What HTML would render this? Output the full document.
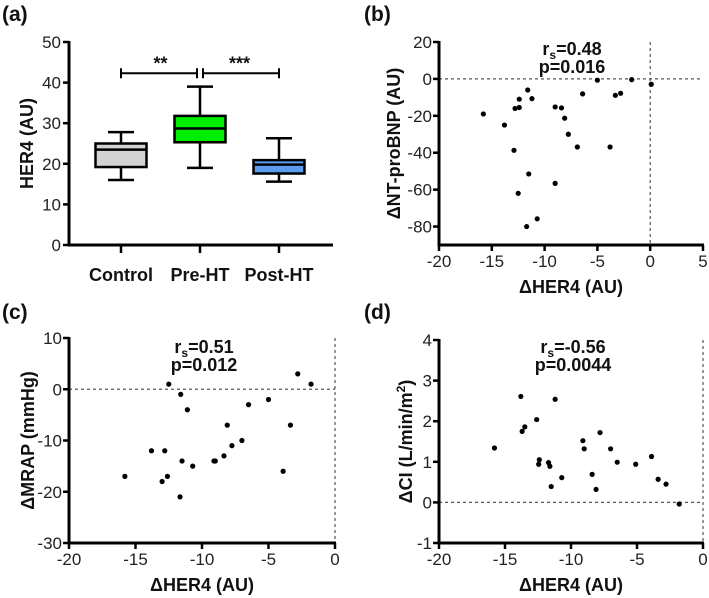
<!DOCTYPE html>
<html><head><meta charset="utf-8"><style>
html,body{margin:0;padding:0;background:#fff}
svg{display:block;font-family:"Liberation Sans",Arial,sans-serif}
.tk{font-size:17px;fill:#222}
.ti{font-size:18px;font-weight:bold;fill:#111}
.pl{font-size:21px;font-weight:bold;fill:#111}
.st{font-size:18px;font-weight:bold;fill:#111}
</style></head><body>
<svg id="fig" width="709" height="598" viewBox="0 0 709 598">
<text class="pl" x="2" y="21">(a)</text>
<text class="pl" x="364" y="21">(b)</text>
<text class="pl" x="2" y="319">(c)</text>
<text class="pl" x="364" y="319">(d)</text>
<g id="pa"></g>
<g id="pb"></g>
<g id="pc"></g>
<g id="pd"></g>
</svg>
<script>
const boxCategories=["Control","Pre-HT","Post-HT"];
const boxMin=[16,19,15.6];
const boxQ1=[19.2,25.3,17.6];
const boxMedian=[23.5,28.7,19.8];
const boxQ3=[25,31.8,20.9];
const boxMax=[27.8,39,26.3];
const boxColors=["#d3d3d3","#00ee00","#5b9cf0"];
const boxYTicks=[0,10,20,30,40,50];

const bX=[-15.8,-13.8,-12.9,-12.8,-12.4,-12.4,-12.5,-11.6,-11.5,-11.7,-11.2,-10.7,-9.0,-9.0,-8.4,-8.1,-7.75,-6.9,-6.4,-5.0,-3.8,-3.3,-2.8,-1.75,0.1];
const bY=[-19,-25,-38.7,-16,-15.5,-11,-62,-6,-51.5,-80,-10.7,-75.8,-15.2,-56.6,-15.7,-21.3,-30,-36.9,-8.1,-0.7,-36.9,-8.9,-7.8,-0.4,-2.9];
const bXTicks=[-20,-15,-10,-5,0,5];
const bYTicks=[20,0,-20,-40,-60,-80];

const cX=[-15.8,-13.8,-13.0,-12.8,-12.6,-12.5,-11.6,-11.5,-11.65,-11.1,-10.7,-9.1,-9.0,-8.35,-8.1,-7.75,-7.0,-6.5,-5.0,-3.9,-3.35,-2.8,-1.8];
const cY=[-17,-12,-18,-12,-17,1,-1,-14,-21,-4,-15,-14,-14,-13,-7,-11,-10,-3,-2,-16,-7,3,1];
const cXTicks=[-20,-15,-10,-5,0];
const cYTicks=[10,0,-10,-20,-30];

const dX=[-15.8,-13.8,-13.7,-13.5,-12.6,-12.45,-12.4,-11.7,-11.6,-11.5,-11.2,-10.7,-9.1,-9.0,-8.4,-8.1,-7.8,-7.0,-6.5,-5.1,-3.9,-3.4,-2.8,-1.8];
const dY=[1.34,2.61,1.75,1.86,2.04,0.94,1.05,0.98,0.89,0.39,2.54,0.61,1.52,1.32,0.69,0.32,1.72,1.32,0.99,0.94,1.13,0.57,0.45,-0.04];
const dXTicks=[-20,-15,-10,-5,0];
const dYTicks=[4,3,2,1,0,-1];

const NS="http://www.w3.org/2000/svg";
function mk(p,t,a){const e=document.createElementNS(NS,t);for(const k in a)e.setAttribute(k,a[k]);p.appendChild(e);return e;}

(function(){
  const g=document.getElementById('pa');
  const L=69,R=333,y0=245,y50=42;
  const sy=v=>y0+(y50-y0)*v/50;
  const sx=i=>121+i*79;
  for(const t of boxYTicks){
    const tl=mk(g,'line',{x1:L-6,x2:L,y1:sy(t),y2:sy(t),stroke:'#000','stroke-width':2.5});
    
    
    const tx=mk(g,'text',{x:L-8,y:sy(t)+6,'text-anchor':'end',class:'tk'});tx.textContent=t;
    
    
  }
  boxCategories.forEach((c,i)=>{
    const x=sx(i),w=51,cw=26;
    const grp=mk(g,'g',{});
    
    
    mk(grp,'line',{x1:x,x2:x,y1:sy(boxMin[i]),y2:sy(boxMax[i]),stroke:'#000','stroke-width':2.5});
    mk(grp,'line',{x1:x-cw/2,x2:x+cw/2,y1:sy(boxMin[i]),y2:sy(boxMin[i]),stroke:'#000','stroke-width':2.5});
    mk(grp,'line',{x1:x-cw/2,x2:x+cw/2,y1:sy(boxMax[i]),y2:sy(boxMax[i]),stroke:'#000','stroke-width':2.5});
    mk(grp,'rect',{x:x-w/2,y:sy(boxQ3[i]),width:w,height:sy(boxQ1[i])-sy(boxQ3[i]),fill:boxColors[i],stroke:'#000','stroke-width':2.5});
    mk(grp,'line',{x1:x-w/2,x2:x+w/2,y1:sy(boxMedian[i]),y2:sy(boxMedian[i]),stroke:'#000','stroke-width':2.5});
    const tk=mk(g,'line',{x1:x,x2:x,y1:y0,y2:y0+8,stroke:'#000','stroke-width':2.5});
    
    
    const tx=mk(g,'text',{x:x,y:281,'text-anchor':'middle',class:'ti'});tx.textContent=c;
    
    
  });
  const ax=mk(g,'path',{d:`M${L},${y50-1} V${y0} H${R}`,fill:'none',stroke:'#000','stroke-width':3});
  
  
  const yt=mk(g,'text',{x:0,y:0,'text-anchor':'middle',class:'ti',transform:`translate(33,${sy(25)}) rotate(-90)`});yt.textContent='HER4 (AU)';
  
  
  const by=sy(42.3);
  const sig=mk(g,'g',{stroke:'#000','stroke-width':2});
  
  
  mk(sig,'line',{x1:sx(0),x2:sx(1)-3,y1:by,y2:by});
  mk(sig,'line',{x1:sx(1)+3,x2:sx(2),y1:by,y2:by});
  for(const xx of [sx(0),sx(1)-3,sx(1)+3,sx(2)]) mk(sig,'line',{x1:xx,x2:xx,y1:by-5,y2:by+5});
  const s1=mk(g,'text',{x:(sx(0)+sx(1))/2,y:by-4,'text-anchor':'middle',class:'st'});s1.textContent='**';
  
  
  const s2=mk(g,'text',{x:(sx(1)+sx(2))/2,y:by-4,'text-anchor':'middle',class:'st'});s2.textContent='***';
  
  
})();

function scatter(id,o){
  const g=document.getElementById(id);
  const sx=v=>o.L+(o.R-o.L)*(v-o.x0)/(o.x1-o.x0);
  const sy=v=>o.B+(o.T-o.B)*(v-o.y0)/(o.y1-o.y0);
  const h=mk(g,'line',{x1:o.L,x2:o.R,y1:sy(0),y2:sy(0),stroke:'#555','stroke-width':1.2,'stroke-dasharray':'3,3'});
  
  
  const v=mk(g,'line',{x1:sx(0),x2:sx(0),y1:o.T,y2:o.B,stroke:'#555','stroke-width':1.2,'stroke-dasharray':'3,3'});
  
  
  for(const t of o.xt){
    const tl=mk(g,'line',{x1:sx(t),x2:sx(t),y1:o.B,y2:o.B+6,stroke:'#000','stroke-width':2.5});
    
    
    const tx=mk(g,'text',{x:sx(t),y:o.B+22,'text-anchor':'middle',class:'tk'});tx.textContent=t;
    
    
  }
  for(const t of o.yt){
    const tl=mk(g,'line',{x1:o.L-6,x2:o.L,y1:sy(t),y2:sy(t),stroke:'#000','stroke-width':2.5});
    
    
    const tx=mk(g,'text',{x:o.L-7,y:sy(t)+6,'text-anchor':'end',class:'tk'});tx.textContent=t;
    
    
  }
  const ax=mk(g,'path',{d:`M${o.L},${o.T-1} V${o.B} H${o.R+1}`,fill:'none',stroke:'#000','stroke-width':3});
  
  
  o.X.forEach((x,i)=>{
    const c=mk(g,'circle',{cx:sx(x),cy:sy(o.Y[i]),r:2.6,fill:'#000'});
    
    
  });
  const xt=mk(g,'text',{x:(o.L+o.R)/2,y:o.B+48,'text-anchor':'middle',class:'ti'});xt.textContent='\u0394HER4 (AU)';
  
  
  const yt=mk(g,'text',{x:0,y:0,'text-anchor':'middle',class:'ti',transform:`translate(${o.ytx},${(o.T+o.B)/2}) rotate(-90)`});
  yt.innerHTML=o.ytitle;
  
  
  const r=mk(g,'text',{x:o.sx,y:o.sy,'text-anchor':'middle',class:'st'});
  r.innerHTML='r<tspan font-size="12" dy="4">s</tspan><tspan dy="-4">='+o.r+'</tspan>';
  
  
  const p=mk(g,'text',{x:o.sx,y:o.sy+18,'text-anchor':'middle',class:'st'});p.textContent='p='+o.p;
  
  
}
scatter('pb',{L:439,R:703,T:42,B:245,x0:-20,x1:5,y0:-90,y1:20,X:bX,Y:bY,xt:bXTicks,yt:bYTicks,ytx:400,ytitle:'\u0394NT-proBNP (AU)',sx:572,sy:55,r:'0.48',p:'0.016'});
scatter('pc',{L:69,R:335,T:338,B:543,x0:-20,x1:0,y0:-30,y1:10,X:cX,Y:cY,xt:cXTicks,yt:cYTicks,ytx:34,ytitle:'\u0394MRAP (mmHg)',sx:204,sy:353,r:'0.51',p:'0.012'});
scatter('pd',{L:439,R:703,T:340,B:543,x0:-20,x1:0,y0:-1,y1:4,X:dX,Y:dY,xt:dXTicks,yt:dYTicks,ytx:412,ytitle:'\u0394CI (L/min/m<tspan font-size="12" dy="-7">2</tspan><tspan dy="7">)</tspan>',sx:573,sy:353,r:'-0.56',p:'0.0044'});
</script>
</body></html>
